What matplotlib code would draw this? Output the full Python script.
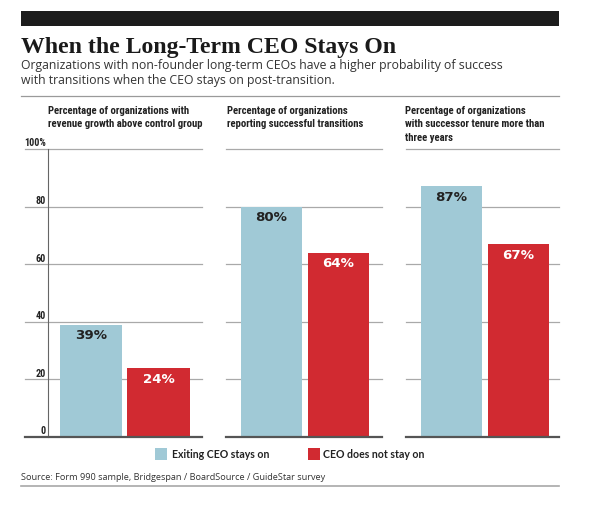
import matplotlib
matplotlib.use("Agg")
import matplotlib.pyplot as plt
from matplotlib.patches import Rectangle
from matplotlib.lines import Line2D
from matplotlib import font_manager as fm

# ---------------- data ----------------
panel_titles = [
    ["Percentage of organizations with", "revenue growth above control group"],
    ["Percentage of organizations", "reporting successful transitions"],
    ["Percentage of organizations", "with successor tenure more than", "three years"],
]
series_names = ["Exiting CEO stays on", "CEO does not stay on"]
stays_on = [39, 80, 87]
not_stay = [24, 64, 67]
y_ticks = [0, 20, 40, 60, 80, 100]
y_tick_labels = ["0", "20", "40", "60", "80", "100%"]

title = "When the Long-Term CEO Stays On"
subtitle = ["Organizations with non-founder long-term CEOs have a higher probability of success",
            "with transitions when the CEO stays on post-transition."]
source = "Source: Form 990 sample, Bridgespan / BoardSource / GuideStar survey"

# ---------------- style ----------------
BLUE = "#a0c9d6"
RED = "#d12a31"
W, H = 592, 509
DPI = 100

avail = {f.name for f in fm.fontManager.ttflist}
def pick(*names):
    for n in names:
        if n in avail:
            return n
    return "DejaVu Sans"

F_SERIF = pick("Liberation Serif", "DejaVu Serif")
F_COND = pick("Liberation Sans Narrow", "DejaVu Sans Condensed", "Roboto Condensed", "Liberation Sans")
F_SUB = pick("Open Sans", "Lato", "DejaVu Sans")
F_VAL = pick("DejaVu Sans")
F_LEG = pick("Lato", "Roboto", "DejaVu Sans")

fig = plt.figure(figsize=(W / DPI, H / DPI), dpi=DPI)
fig.patch.set_facecolor("white")

def fx(x):
    return x / W
def fy(y):
    return 1 - y / H

renderer = fig.canvas.get_renderer()

def fit(t, target):
    for _ in range(3):
        w = t.get_window_extent(renderer=renderer).width
        t.set_fontsize(t.get_fontsize() * target / w)

def ftext(x, y, s, target=None, **kw):
    t = fig.text(fx(x), fy(y), s, **kw)
    if target:
        fit(t, target)
    return t

# top black bar
fig.add_artist(Rectangle((fx(21), fy(26)), fx(559) - fx(21), fy(11) - fy(26),
                         transform=fig.transFigure, color="#1c1c1c", lw=0))
# title and subtitle
ftext(21, 52.5, title, target=376, family=F_SERIF, fontweight="bold",
      fontsize=18, color="#1a1a1a", va="baseline")
sub_size = None
for i, line in enumerate(subtitle):
    t = ftext(21, 69.5 + 14.5 * i, line, target=476 if i == 0 else None,
              family=F_SUB, fontsize=sub_size or 8.5, color="#333333", va="baseline")
    if i == 0:
        sub_size = t.get_fontsize()

# rules
fig.add_artist(Line2D([fx(21), fx(559)], [fy(96), fy(96)], transform=fig.transFigure,
                      color="#9a9a9a", lw=0.9))
fig.add_artist(Line2D([fx(21), fx(559)], [fy(486), fy(486)], transform=fig.transFigure,
                      color="#a8a8a8", lw=1.2))

# panel title size from widest line
probe = fig.text(0, 0, panel_titles[0][1], family=F_COND, fontweight="bold", fontsize=8)
fit(probe, 154)
pt_size = probe.get_fontsize()
probe.remove()

# tick label size from "100%"
probe = fig.text(0, 0, y_tick_labels[-1], family=F_COND, fontweight="bold", fontsize=7)
fit(probe, 22)
tick_size = probe.get_fontsize()
probe.remove()

# axes layout (pixels)
boxes = [(25, 202), (226, 382), (406, 559)]
xlims = [(-0.978, 1.644), (-0.679, 1.649), (-0.679, 1.604)]
title_x = [48, 227, 405]
top_px, bot_px = 149, 437

for k in range(3):
    l, r = boxes[k]
    ax = fig.add_axes([fx(l), fy(bot_px), fx(r) - fx(l), fy(top_px) - fy(bot_px)])
    ax.set_xlim(*xlims[k])
    ax.set_ylim(0, 100)
    ax.axis("off")
    for v in y_ticks[1:]:
        ax.axhline(v, color="#a9a9a9", lw=0.9, zorder=0, clip_on=False)
    ax.axhline(0, color="#555555", lw=1.6, zorder=3, clip_on=False)
    ax.bar([0, 1], [stays_on[k], not_stay[k]], width=0.92, color=[BLUE, RED],
           zorder=2, lw=0)
    ax.text(0, stays_on[k] - 3.9, f"{stays_on[k]}%", ha="center", va="center",
            family=F_VAL, fontweight="bold", fontsize=9.6, color="#222222", zorder=4)
    ax.text(1, not_stay[k] - 3.9, f"{not_stay[k]}%", ha="center", va="center",
            family=F_VAL, fontweight="bold", fontsize=9.6, color="white", zorder=4)
    if k == 0:
        ax.plot([-0.637, -0.637], [0, 100], color="#666666", lw=0.8, zorder=1,
                clip_on=False)
        for v, lab in zip(y_ticks, y_tick_labels):
            ax.text(-0.667, v + 0.9, lab, ha="right", va="baseline", family=F_COND,
                    fontweight="bold", fontsize=tick_size, color="#222222",
                    clip_on=False)
    for j, line in enumerate(panel_titles[k]):
        ftext(title_x[k], 114.5 + 13 * j, line, family=F_COND, fontweight="bold",
              fontsize=pt_size, color="#222222", va="baseline")

# legend
leg_sq = [(155, 448), (308, 448)]
leg_tx = [172, 323]
for (sx, sy), tx, name, col, tw in zip(leg_sq, leg_tx, series_names, [BLUE, RED], [97, 101]):
    fig.add_artist(Rectangle((fx(sx), fy(sy + 12)), fx(12), fy(sy) - fy(sy + 12),
                             transform=fig.transFigure, color=col, lw=0))
    ftext(tx, 458, name, target=tw, family=F_LEG, fontweight="bold", fontsize=8,
          color="#222222", va="baseline")

# source
ftext(21, 480.5, source, target=303, family=F_SUB, fontsize=7, color="#333333",
      va="baseline")

fig.savefig("out.png", dpi=DPI, facecolor="white")
